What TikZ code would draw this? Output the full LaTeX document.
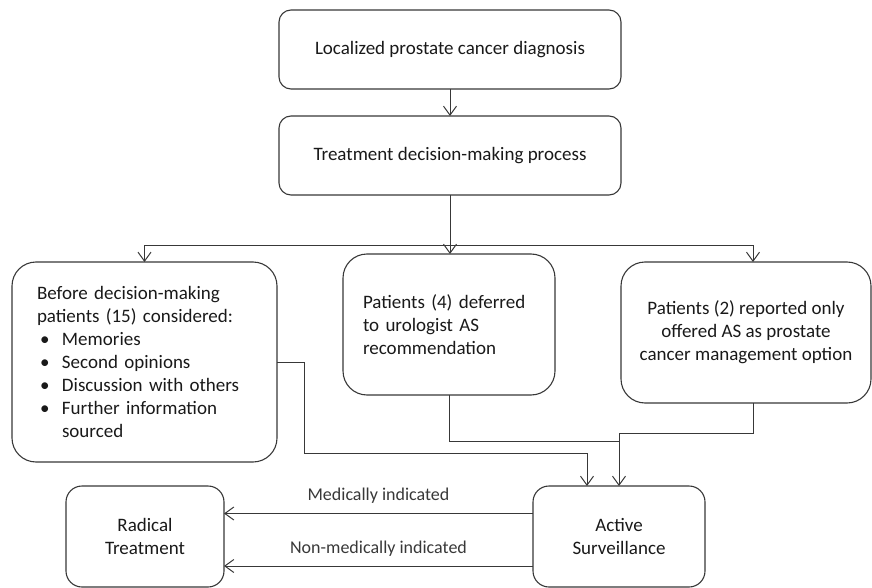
\documentclass[tikz,border=0pt]{standalone}
\usepackage{fontspec}
\setmainfont{Carlito}
\usetikzlibrary{arrows.meta,calc}
\begin{document}
\begin{tikzpicture}[y=1pt, x=1pt, yscale=-1.000000, xscale=1.000000, inner sep=0pt, outer sep=0pt,
  box/.style={draw=black!78,line width=1.1pt,rounded corners=#1,text=black!90,font=\fontsize{19}{23}\selectfont},
  box/.default=12pt,
  link/.style={draw=black!78,line width=1pt,-{Straight Barb[length=9pt,width=13pt,line width=1pt]}},
  plainlink/.style={draw=black!78,line width=1pt},
  note/.style={text=black!78,font=\fontsize{18}{21}\selectfont}]
\useasboundingbox (0,0) rectangle (872,588);
\node[box, minimum width=342pt, minimum height=79pt] (diag) at (450,49.5) {Localized prostate cancer diagnosis};
\node[box, minimum width=342pt, minimum height=79pt] (proc) at (450,155.5) {Treatment decision-making process};
\node[box=24pt, minimum width=265pt, minimum height=200pt, text width=215pt, align=left] (before) at (144.5,362) {Before decision-making\\patients (15) considered:\\\hspace*{3pt}\makebox[22pt][l]{\textbullet}Memories\\\hspace*{3pt}\makebox[22pt][l]{\textbullet}Second opinions\\\hspace*{3pt}\makebox[22pt][l]{\textbullet}Discussion with others\\\hspace*{3pt}\makebox[22pt][l]{\textbullet}Further information\\\hspace*{25pt}sourced};
\node[box=24pt, minimum width=212pt, minimum height=141pt, text width=172pt, align=left] (deferred) at (449,324.5) {Patients (4) deferred\\to urologist AS\\recommendation};
\node[box=24pt, minimum width=250pt, minimum height=141pt, align=center] (offered) at (746,332.5) {Patients (2) reported only\\offered AS as prostate\\cancer management option};
\node[box=16pt, minimum width=158pt, minimum height=101pt, align=center] (radical) at (145,536.5) {Radical\\Treatment};
\node[box=16pt, minimum width=172pt, minimum height=101pt, align=center] (surv) at (619,536.5) {Active\\Surveillance};
\coordinate (fork) at (450,245);
\coordinate (offin) at (753,262);
\coordinate (offout) at (753,403);
\coordinate (lbend) at (304,453);
\coordinate (asleft) at (587,486);
\coordinate (rbend) at (619,433);
\coordinate (mjoin) at (619,441);
\draw[link] (diag) -- (proc);
\draw[plainlink] (proc.south) -- (fork);
\draw[link] (fork) -| (before.north);
\draw[link] (fork) -- (fork |- deferred.north);
\draw[link] (fork) -| (offin);
\draw[link] (before.east) -| (lbend) -| (asleft);
\draw[plainlink] (deferred.south) |- (mjoin);
\draw[link] (offout) |- (rbend) -- (surv.north);
\draw[link] ($(surv.west)+(0,-23)$) -- node[note, above=10pt] (medical) {Medically indicated} ($(radical.east)+(0,-23)$);
\draw[link] ($(surv.west)+(0,29.5)$) -- node[note, above=10pt] (nonmedical) {Non-medically indicated} ($(radical.east)+(0,29.5)$);
\end{tikzpicture}
\end{document}
